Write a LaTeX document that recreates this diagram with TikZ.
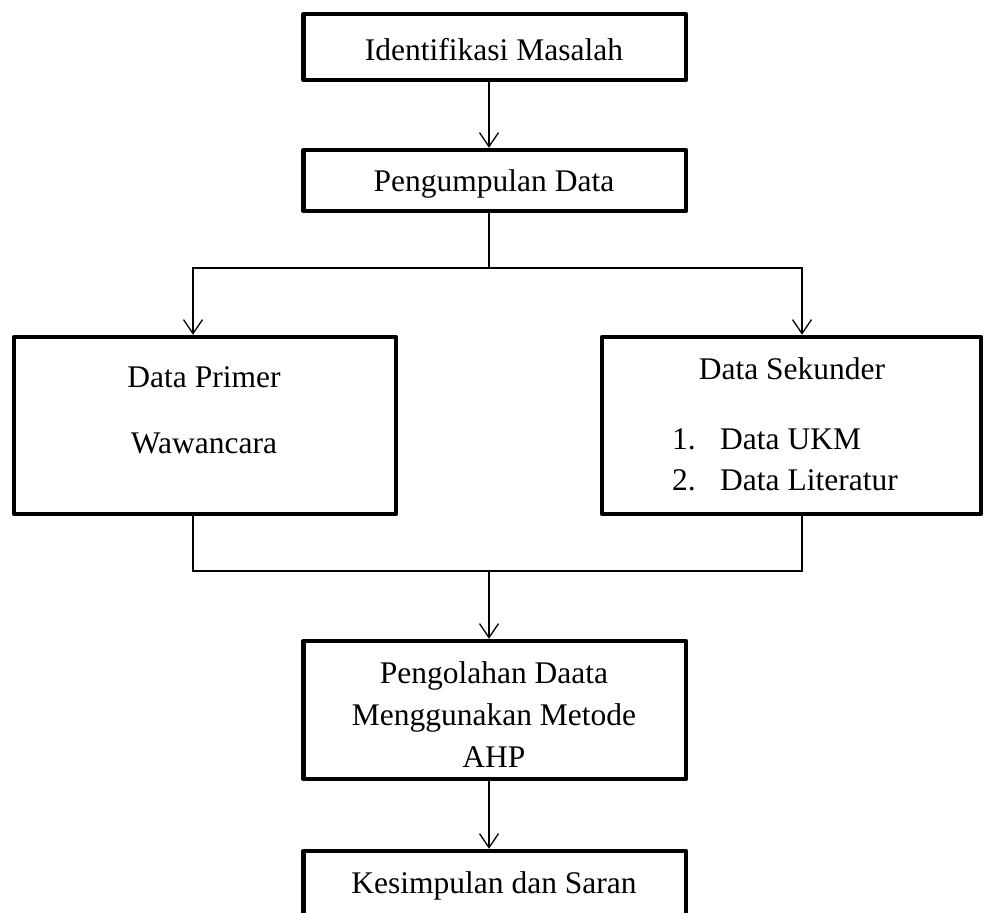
\documentclass[tikz,border=0pt]{standalone}
\usepackage{fontspec}
\setmainfont{Liberation Serif}
\usetikzlibrary{arrows.meta}
\begin{document}
\begin{tikzpicture}[x=1pt,y=-1pt,
  box/.style={draw,line width=4.5pt,rectangle,inner sep=0pt,line join=round},
  lbl/.style={anchor=base,inner sep=0pt,font=\fontsize{31.5}{41}\selectfont},
  conn/.style={line width=1.3pt},
  arr/.style={conn,-{Straight Barb[length=14pt,width=19pt,line width=1.3pt]}}]
\clip (0,0) rectangle (984,912);
\fill[white] (0,0) rectangle (984,912);
% boxes
\node[box,minimum width=382.5pt,minimum height=66pt] (b1) at (494.8,47) {};
\node[box,minimum width=382.5pt,minimum height=61pt] (b2) at (494.8,180.5) {};
\node[box,minimum width=382pt,minimum height=177pt] (b3) at (205,425.5) {};
\node[box,minimum width=379pt,minimum height=177pt] (b4) at (791.5,425.5) {};
\node[box,minimum width=382.5pt,minimum height=138pt] (b5) at (494.8,710) {};
\node[box,minimum width=382.5pt,minimum height=70pt] (b6) at (494.8,886) {};
% texts
\node[lbl] (t1) at (494,61) {Identifikasi Masalah};
\node[lbl] (t2) at (494,191) {Pengumpulan Data};
\node[lbl] (t3a) at (204,387) {Data Primer};
\node[lbl] (t3b) at (204,453) {Wawancara};
\node[lbl] (t4a) at (792,379) {Data Sekunder};
\node[lbl,anchor=base west] (t4b) at (672,449) {1.};
\node[lbl,anchor=base west] (t4c) at (720,449) {Data UKM};
\node[lbl,anchor=base west] (t4d) at (672,490) {2.};
\node[lbl,anchor=base west] (t4e) at (720,490) {Data Literatur};
\node[lbl] (t5a) at (494,683) {Pengolahan Daata};
\node[lbl] (t5b) at (494,725) {Menggunakan Metode};
\node[lbl] (t5c) at (494,767) {AHP};
\node[lbl] (t6) at (494,893) {Kesimpulan dan Saran};
% junctions
\coordinate (cx) at (489,0);
\coordinate (jt) at (489,268);
\coordinate (jl) at (193,268);
\coordinate (jr) at (802,268);
\coordinate (jb) at (489,571);
% connectors
\draw[arr] (b1.south -| cx) -- (b2.north -| cx);
\draw[conn] (b2.south -| cx) -- (jt);
\draw[arr] (jt) -| (b3.north -| jl);
\draw[arr] (jt) -| (b4.north -| jr);
\draw[conn] (b3.south -| jl) |- (jb);
\draw[conn] (b4.south -| jr) |- (jb);
\draw[arr] (jb) -- (b5.north -| jb);
\draw[arr] (b5.south -| cx) -- (b6.north -| cx);
\end{tikzpicture}
\end{document}
